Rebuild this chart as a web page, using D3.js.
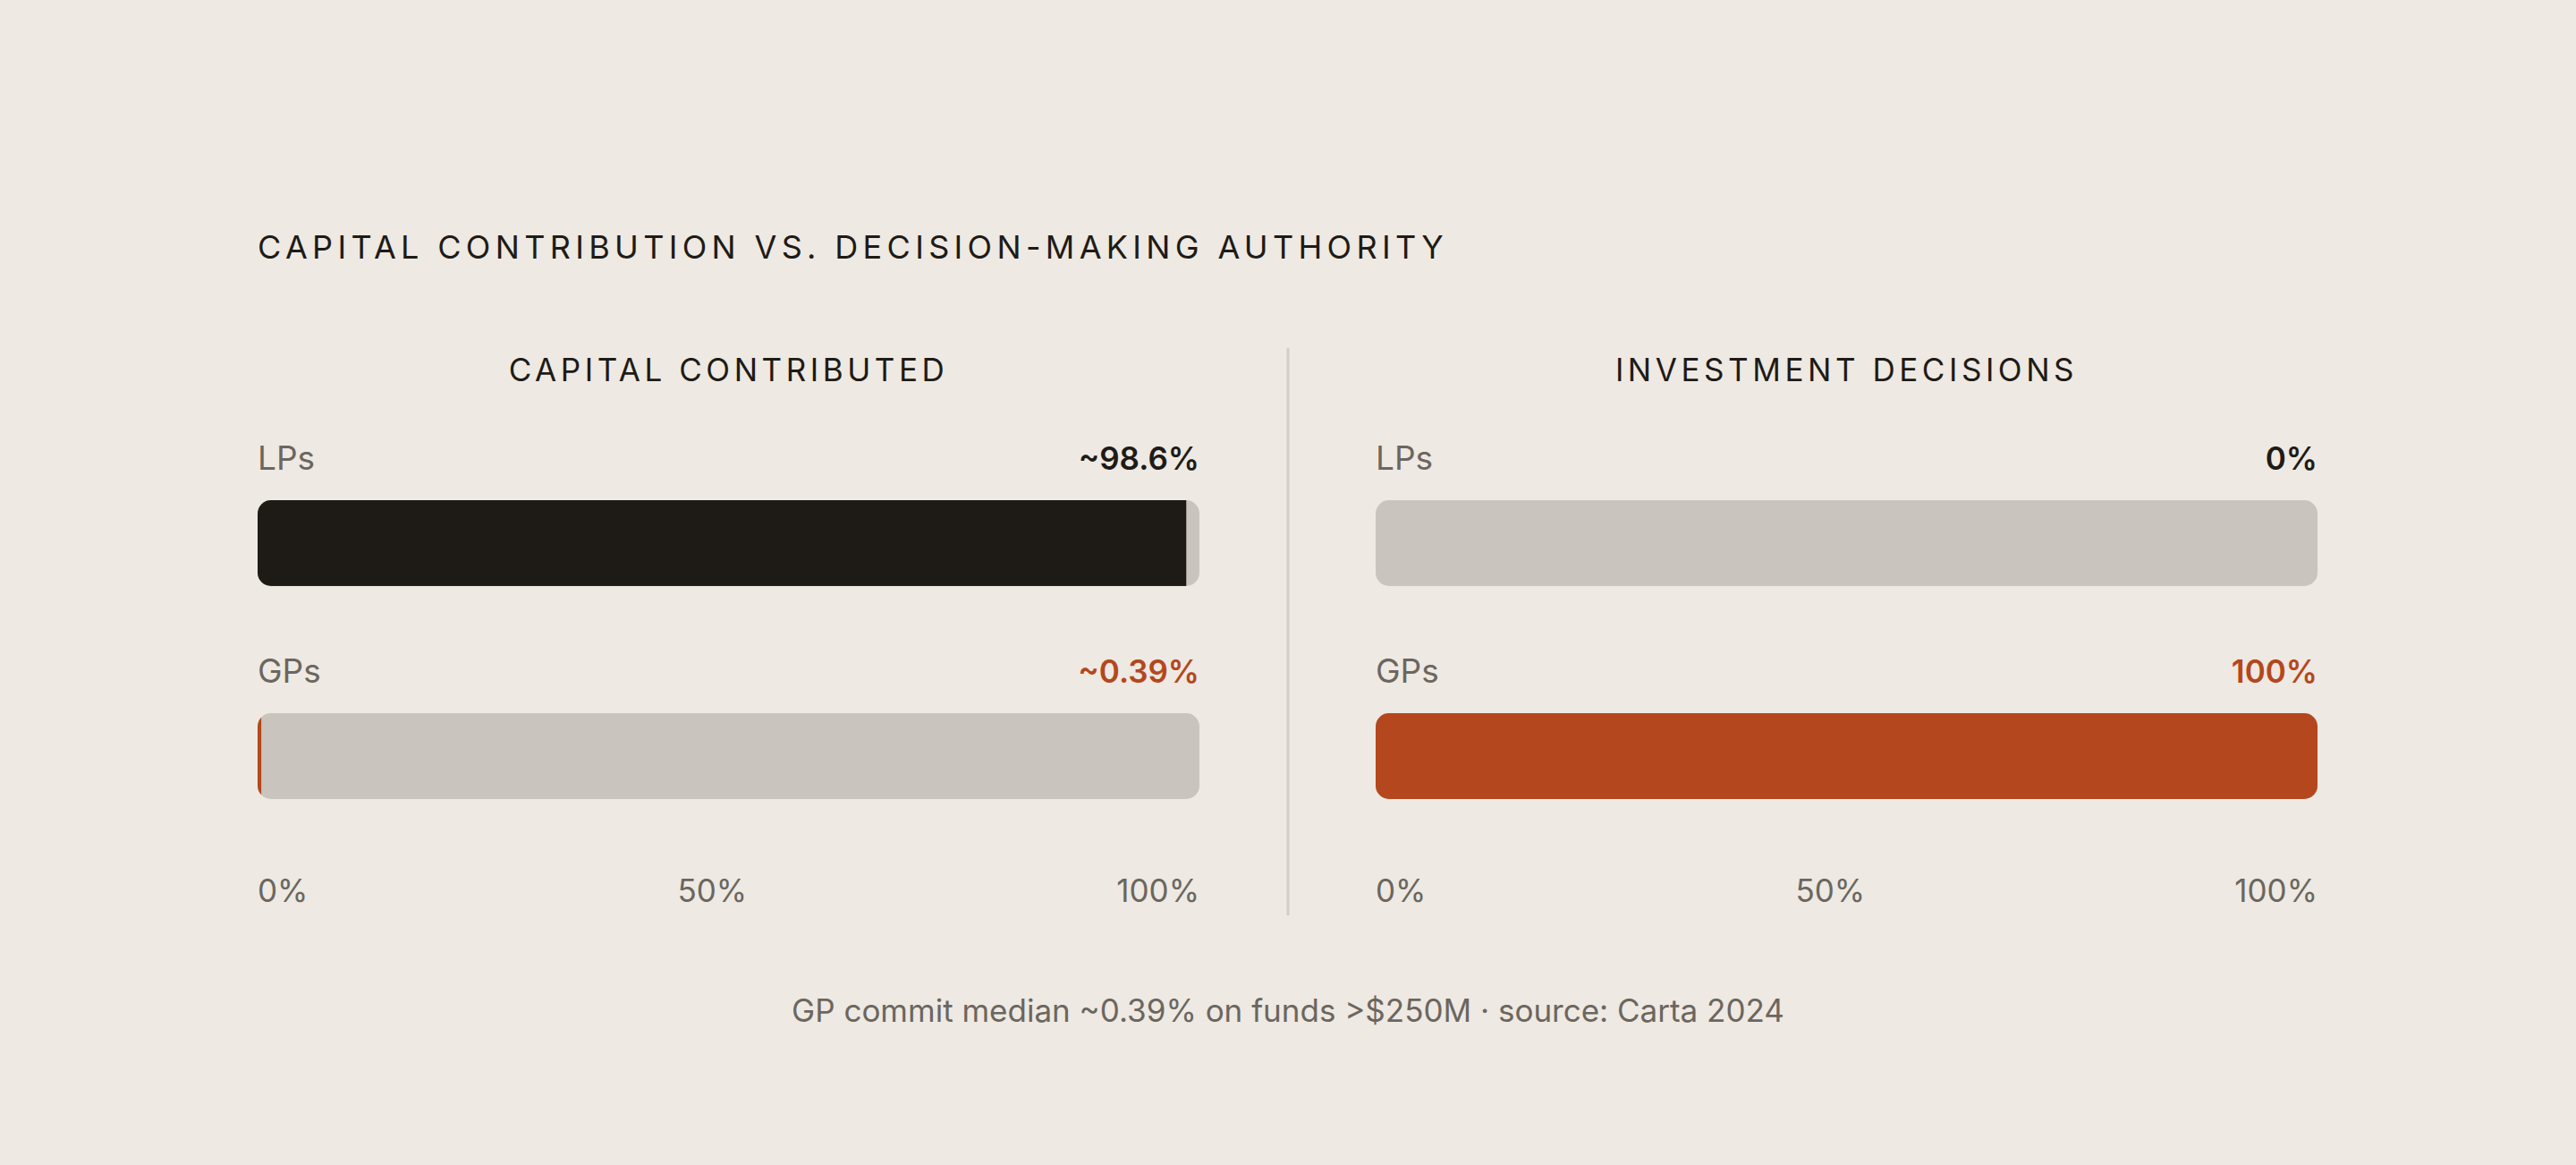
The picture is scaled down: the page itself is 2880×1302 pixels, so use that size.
<!DOCTYPE html>
<html>
<head>
<meta charset="utf-8">
<script src="https://cdn.jsdelivr.net/npm/d3@7"></script>
<style>
  html, body { margin: 0; padding: 0; background: #eee9e2; }
  svg { display: block; font-family: Inter, "DejaVu Sans", sans-serif; }
</style>
</head>
<body>
<div id="chart"></div>
<script>
// data
const panels = ['CAPITAL CONTRIBUTED', 'INVESTMENT DECISIONS'];
const groups = ['LPs', 'GPs'];
const capitalValues = [98.6, 0.39];
const decisionValues = [0, 100];
const capitalLabels = ['~98.6%', '~0.39%'];
const decisionLabels = ['0%', '100%'];
const tickValues = [0, 50, 100];
const tickLabels = ['0%', '50%', '100%'];

const title = 'CAPITAL CONTRIBUTION VS. DECISION-MAKING AUTHORITY';
const footer = 'GP commit median ~0.39% on funds >$250M · source: Carta 2024';

const width = 2880;
const height = 1302;
const colors = { bg: '#eee9e2', track: '#c9c4bd', dark: '#1e1b17', accent: '#b4471d', muted: '#6b665f', rule: '#d3cdc5' };
const fillColors = [colors.dark, colors.accent];

const svg = d3.select('#chart')
  .append('svg')
  .attr('width', width)
  .attr('height', height);

svg.append('rect').attr('width', width).attr('height', height).attr('fill', colors.bg);

svg.append('text')
  .attr('x', 288)
  .attr('y', 289)
  .attr('font-size', 36)
  .attr('font-weight', 400)
  .attr('letter-spacing', '0.148em')
  .attr('fill', colors.dark)
  .text(title);

// divider between the two panels
svg.append('line')
  .attr('x1', 1440).attr('x2', 1440)
  .attr('y1', 389).attr('y2', 1023)
  .attr('stroke', colors.rule)
  .attr('stroke-width', 3);

const barY = d3.scaleBand().domain(groups).range([559, 893]).paddingInner(0.597).paddingOuter(0);
const panelX = [288, 1538];
const barW = 1053;
const radius = 15;

const panelData = [
  { name: panels[0], values: capitalValues, labels: capitalLabels },
  { name: panels[1], values: decisionValues, labels: decisionLabels }
];

panelData.forEach((p, pi) => {
  const x = d3.scaleLinear().domain([0, 100]).range([0, barW]);
  const g = svg.append('g').attr('transform', `translate(${panelX[pi]},0)`);

  g.append('text')
    .attr('x', x(50))
    .attr('y', 426)
    .attr('text-anchor', 'middle')
    .attr('font-size', 35)
    .attr('letter-spacing', '0.13em')
    .attr('fill', colors.dark)
    .text(p.name);

  groups.forEach((grp, i) => {
    const y = barY(grp);
    const h = barY.bandwidth();
    const clipId = `clip-${pi}-${i}`;

    g.append('clipPath').attr('id', clipId)
      .append('rect')
      .attr('x', x(0)).attr('y', y)
      .attr('width', x(100) - x(0)).attr('height', h)
      .attr('rx', radius);

    g.append('text')
      .attr('x', x(0))
      .attr('y', y - 34)
      .attr('font-size', 37)
      .attr('fill', colors.muted)
      .text(grp);

    g.append('text')
      .attr('x', x(100))
      .attr('y', y - 34)
      .attr('text-anchor', 'end')
      .attr('font-size', 35)
      .attr('font-weight', 600)
      .attr('fill', i === 0 ? colors.dark : colors.accent)
      .text(p.labels[i]);

    const bars = g.append('g').attr('clip-path', `url(#${clipId})`);
    bars.append('rect')
      .attr('x', x(0)).attr('y', y)
      .attr('width', x(100) - x(0)).attr('height', h)
      .attr('fill', colors.track);
    bars.append('rect')
      .attr('x', x(0)).attr('y', y)
      .attr('width', x(p.values[i]) - x(0)).attr('height', h)
      .attr('fill', fillColors[i]);
  });

  // tick labels: end ticks pinned to the scale ends, middle one spaced evenly between them
  const ticks = g.selectAll('.tick')
    .data(tickValues)
    .join('text')
    .attr('class', 'tick')
    .attr('y', 1008)
    .attr('font-size', 35)
    .attr('fill', colors.muted)
    .text((d, i) => tickLabels[i]);
  const widths = ticks.nodes().map(n => n.getComputedTextLength());
  ticks
    .attr('text-anchor', 'start')
    .attr('x', (d, i) => {
      if (i === 0) return x(d);
      if (i === tickValues.length - 1) return x(d) - widths[i];
      const gap = (x(100) - x(0) - d3.sum(widths)) / 2;
      return x(0) + widths[0] + gap;
    });
});

svg.append('text')
  .attr('x', width / 2)
  .attr('y', 1142)
  .attr('text-anchor', 'middle')
  .attr('font-size', 35)
  .attr('fill', colors.muted)
  .text(footer);
</script>
</body>
</html>
